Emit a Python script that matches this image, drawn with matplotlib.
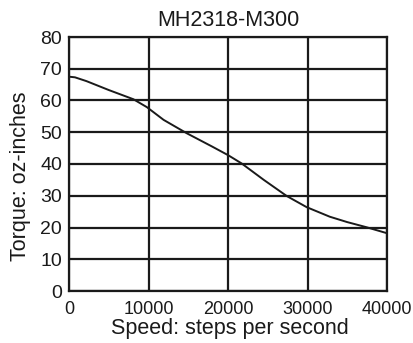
import matplotlib
matplotlib.use('Agg')
from matplotlib import pyplot as plt

plt.rcParams.update({'font.family': ['Liberation Sans', 'DejaVu Sans']})

# torque curve
speed = [0, 750, 2200, 5000, 8100, 9800, 11900, 14800, 18000, 20000,
         21700, 24500, 27400, 29900, 32800, 35000, 37400, 40000]
torque = [67.5, 67.3, 66.1, 63.3, 60.4, 57.9, 53.9, 49.7, 45.5, 42.8,
          40.2, 35.0, 29.9, 26.4, 23.4, 21.7, 20.1, 18.2]

xticks = [0, 10000, 20000, 30000, 40000]
yticks = [0, 10, 20, 30, 40, 50, 60, 70, 80]

fig = plt.figure(figsize=(4.13, 3.43), dpi=100)
ax = fig.add_axes([69/413, 1 - 291/343, 318/413, 254/343])

ax.plot(speed, torque, color='#1a1a1a', lw=1.4, zorder=3)

ax.set_xlim(0, 40000)
ax.set_ylim(0, 80)
ax.set_xticks(xticks)
ax.set_yticks(yticks)
ax.set_xticklabels([str(t) for t in xticks], fontsize=13)
ax.set_yticklabels([str(t) for t in yticks], fontsize=14)
ax.grid(True, color='#1a1a1a', lw=1.6)
for s in ax.spines.values():
    s.set_color('#1a1a1a')
    s.set_linewidth(1.6)
ax.tick_params(length=0, colors='#1a1a1a')
ax.tick_params(axis='x', pad=7)
ax.tick_params(axis='y', pad=5)

ax.set_title("MH2318-M300", fontsize=15.5, color='#1a1a1a', pad=8)
ax.set_xlabel("Speed: steps per second", fontsize=15.5, color='#1a1a1a')
ax.xaxis.set_label_coords(0.505, -0.105)
ax.set_ylabel("Torque: oz-inches", fontsize=15.5, color='#1a1a1a')
ax.yaxis.set_label_coords(-0.12, 0.453)

fig.savefig('out.png', dpi=100)
